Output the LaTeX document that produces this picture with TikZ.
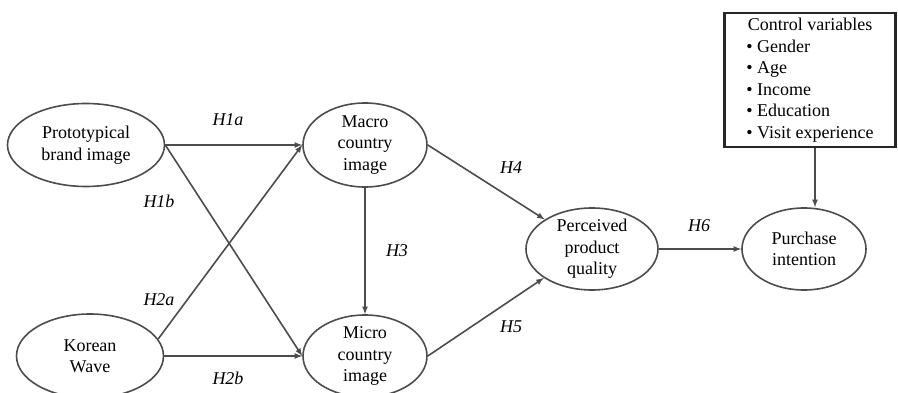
\documentclass[tikz,border=0pt]{standalone}
\usepackage{fontspec}
\setmainfont{Liberation Serif}
\newfontfamily\figfont{Liberation Serif}
\usetikzlibrary{shapes.geometric}

\begin{document}
\begin{tikzpicture}[x=1pt, y=-1pt,
    construct/.style={draw=black!70, line width=1.6pt, ellipse, inner xsep=0pt, inner ysep=-4pt,
        align=center, text=black, font=\figfont\fontsize{18}{21.5}\selectfont},
    path/.style={-latex, line width=1.6pt, draw=black!70},
    hyp/.style={text=black, font=\figfont\fontsize{18}{21.5}\selectfont\itshape}]
    \useasboundingbox (0,0) rectangle (898,393);

    % Antecedents
    \node[construct, minimum width=157pt, minimum height=83pt] (proto) at (86,145) {Prototypical\\brand image};
    \node[construct, minimum width=147pt, minimum height=84pt] (korean) at (90,356) {Korean\\Wave};

    % Country image
    \node[construct, minimum width=124pt, minimum height=84pt] (macro) at (365,145) {Macro\\country\\image};
    \node[construct, minimum width=124pt, minimum height=82pt] (micro) at (365,356) {Micro\\country\\image};

    % Outcomes
    \node[construct, minimum width=132pt, minimum height=82pt] (quality) at (592,249) {Perceived\\product\\quality};
    \node[construct, minimum width=124pt, minimum height=82pt] (intent) at (804,249) {Purchase\\intention};

    % Control variables box
    \node[draw=black!85, line width=2.8pt, minimum width=171pt, minimum height=134pt, inner sep=0pt,
        font=\figfont\fontsize{18}{21.5}\selectfont] (ctrl) at (810,80) {%
        \begin{tabular}{@{}l@{}}
            \multicolumn{1}{@{}c@{}}{Control variables}\\
            \textbullet\ Gender\\
            \textbullet\ Age\\
            \textbullet\ Income\\
            \textbullet\ Education\\
            \textbullet\ Visit experience
        \end{tabular}};
    \coordinate (ctrlout) at ([xshift=5pt]ctrl.south);

    % Paths
    \draw[path] (proto) -- (macro);
    \draw[path] (proto.east) -- (micro.west);
    \draw[path] (korean.14) -- (macro.west);
    \draw[path] (korean) -- (micro);
    \draw[path] (macro) -- (micro);
    \draw[path] (macro.east) -- (quality.148);
    \draw[path] (micro.east) -- (quality.211);
    \draw[path] (quality) -- (intent);
    \draw[path] (ctrlout) -- (ctrlout |- intent.north);

    % Hypotheses
    \node[hyp] (h1a) at (228,120) {H1a};
    \node[hyp] (h1b) at (159,201) {H1b};
    \node[hyp] (h2a) at (159,300) {H2a};
    \node[hyp] (h2b) at (228,378) {H2b};
    \node[hyp] (h3) at (397,251) {H3};
    \node[hyp] (h4) at (511,168) {H4};
    \node[hyp] (h5) at (511,327) {H5};
    \node[hyp] (h6) at (699,226) {H6};
\end{tikzpicture}
\end{document}
